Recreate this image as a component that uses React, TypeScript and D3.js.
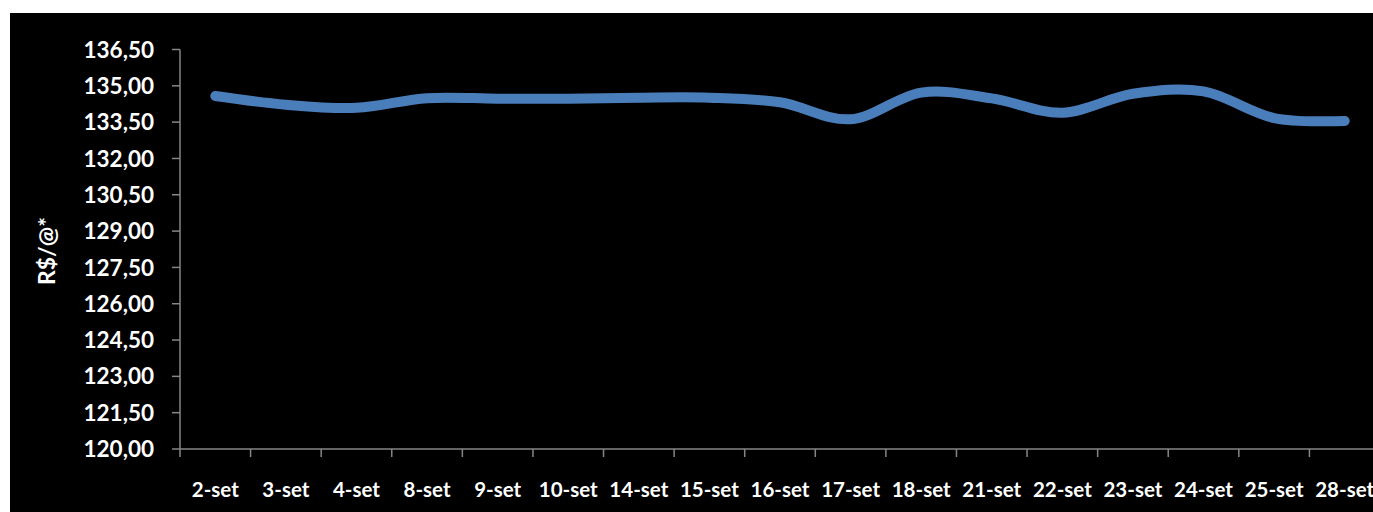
import React from "react";
import * as d3 from "d3";

const categories = ["2-set","3-set","4-set","8-set","9-set","10-set","14-set","15-set","16-set","17-set","18-set","21-set","22-set","23-set","24-set","25-set","28-set"];
const prices = [134.58,134.22,134.09,134.49,134.47,134.47,134.51,134.51,134.32,133.62,134.72,134.48,133.89,134.67,134.77,133.67,133.55];
const yTicks = [120,121.5,123,124.5,126,127.5,129,130.5,132,133.5,135,136.5];
const yTitle = "R$/@*";

const W = 1373, H = 512;
const left = 180, right = 1380, top = 49.5, bottom = 449;
const font = "Lato, 'Open Sans', sans-serif";

export default function App() {
  const x = d3.scaleBand<string>().domain(categories).range([left, right]).padding(0);
  const y = d3.scaleLinear().domain([120, 136.5]).range([bottom, top]);
  const line = d3.line<number>()
    .x((_, i) => (x(categories[i]) as number) + x.bandwidth() / 2)
    .y((d) => y(d))
    .curve(d3.curveCardinal.tension(0));
  const fmt = (v: number) => v.toFixed(2).replace(".", ",");
  const axisColor = "#868686";
  return (
    <svg width={W} height={H} style={{ position: "absolute", left: 0, top: 0, display: "block" }}>
      <rect x={0} y={0} width={W} height={H} fill="#ffffff" />
      <rect x={10} y={13} width={W - 10} height={H - 13} fill="#000000" />
      {/* y axis */}
      <line x1={left} x2={left} y1={top} y2={bottom} stroke={axisColor} strokeWidth={1.5} />
      {yTicks.map((t) => (
        <g key={t}>
          <line x1={left - 8} x2={left} y1={y(t)} y2={y(t)} stroke={axisColor} strokeWidth={1.5} />
          <text x={154} y={y(t)} dy="0.36em" textAnchor="end" fill="#ffffff" fontFamily={font} fontWeight="bold" fontSize={22.5}>
            {fmt(t)}
          </text>
        </g>
      ))}
      {/* x axis */}
      <line x1={left} x2={right} y1={bottom} y2={bottom} stroke={axisColor} strokeWidth={1.5} />
      {categories.map((c, i) => (
        <g key={c}>
          <line x1={(x(c) as number)} x2={(x(c) as number)} y1={bottom} y2={bottom + 8} stroke={axisColor} strokeWidth={1.5} />
          <text x={(x(c) as number) + x.bandwidth() / 2} y={497} textAnchor="middle" fill="#ffffff" fontFamily={font} fontWeight="bold" fontSize={20.5}>
            {c}
          </text>
        </g>
      ))}
      <line x1={right} x2={right} y1={bottom} y2={bottom + 8} stroke={axisColor} strokeWidth={1.5} />
      <text transform={`translate(55,251) rotate(-90)`} textAnchor="middle" fill="#ffffff" fontFamily={font} fontWeight="bold" fontSize={23}>
        {yTitle}
      </text>
      <path d={line(prices) || ""} fill="none" stroke="#4A7EBB" strokeWidth={10} strokeLinecap="round" strokeLinejoin="round" />
    </svg>
  );
}
